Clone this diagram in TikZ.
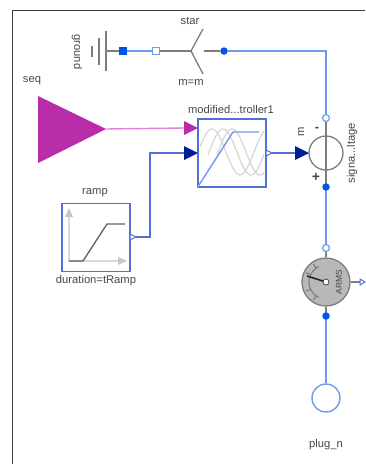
\documentclass[tikz,border=0pt]{standalone}
\usepackage{fontspec}
\setmainfont{Liberation Sans}
\definecolor{wire}{RGB}{110,155,235}
\definecolor{dot}{RGB}{0,85,225}
\definecolor{navy}{RGB}{0,30,150}
\definecolor{boxb}{RGB}{80,112,215}
\definecolor{mag}{RGB}{185,45,170}
\definecolor{pinkw}{RGB}{225,130,215}
\definecolor{grayl}{RGB}{125,125,125}
\definecolor{lab}{RGB}{70,70,70}
\begin{document}
\begin{tikzpicture}[x=1pt,y=-1pt,
  wireline/.style={draw=wire,line width=1.4pt},
  grayline/.style={draw=grayl,line width=1.3pt},
  blockbox/.style={draw=boxb,line width=1.3pt,fill=white,minimum width=68pt,minimum height=68pt,inner sep=0pt},
  lbl/.style={font=\fontsize{11.2}{12}\selectfont,text=lab,inner sep=0pt},
  dotn/.style={circle,fill=dot,minimum size=7.5pt,inner sep=0pt},
  odot/.style={circle,draw=wire,fill=white,line width=1.2pt,minimum size=7pt,inner sep=0pt},
  dsq/.style={rectangle,fill=dot,minimum size=7.5pt,inner sep=0pt},
  osq/.style={rectangle,draw=wire,fill=white,line width=1.2pt,minimum size=6.5pt,inner sep=0pt},
  sinew/.style={black!16,line width=1.2pt}]
\useasboundingbox (0,0) rectangle (365,464);
\draw[draw=black!75,line width=1.2pt] (12.5,464) -- (12.5,10.5) -- (365,10.5);
% coordinates and ports
\coordinate (gnd) at (106,51);
\coordinate (starc) at (191,51);
\coordinate (starr) at (204,51);
\node[dsq] (gp) at (123,51) {};
\node[osq] (sp) at (156,51) {};
\node[dotn] (sn) at (224,51) {};
\coordinate (corner) at (326,51);
\coordinate (hub) at (326,282);
\node[circle,draw=wire,fill=white,line width=1.4pt,minimum size=28pt,inner sep=0pt] (plug) at (326,398) {};
\node[circle,draw=grayl,line width=1.3pt,fill=white,minimum size=34pt,inner sep=0pt] (vs) at (326,153) {};
\node[circle,draw=grayl,line width=1.3pt,fill=black!28,minimum size=48pt,inner sep=0pt] (meter) at (hub) {};
\node[blockbox] (ctl) at (232,153) {};
\node[blockbox] (ramp) at (96,237.5) {};
\coordinate (seqtip) at (106,129);
% wires
\draw[grayline] (gnd) -- (gp);
\draw[wireline] (gp) -- (sp);
\draw[grayline] (sp) -- (starc);
\draw[grayline] (starr) -- (sn);
\coordinate (vpc) at (326,118);
\coordinate (vnc) at (326,187);
\coordinate (mpc) at (326,248);
\coordinate (mnc) at (326,316);
\draw[wireline] (sn) -- (corner) -- (vpc);
\draw[grayline,line width=1.6pt] (vpc) -- (vnc);
\draw[wireline] (vnc) -- (mpc);
\draw[grayline] (mpc) -- (meter);
\draw[grayline] (meter) -- (mnc);
\draw[wireline] (mnc) -- (plug);
\draw[grayline] (meter.east) -- (360,282);
\node[odot] (vp) at (vpc) {};
\node[dotn] (vn) at (vnc) {};
\node[odot] (mp) at (mpc) {};
\node[dotn] (mn) at (mnc) {};
\coordinate (a1) at (184,128);
\coordinate (a2) at (184,153);
\draw[draw=pinkw,line width=1.4pt] (seqtip) -- (a1);
\draw[wireline,draw=boxb] (136,237) -- (150,237) -- (150,153) -- (a2);
\draw[wireline,draw=boxb] (272,153) -- (295,153);
% ground
\draw[grayline,line width=1.5pt] (106,31) -- (106,71) (99,38) -- (99,65) (92,46) -- (92,57);
% star
\draw[grayline] (203,29) -- (starc) -- (203,74);
% seq
\fill[mag] (38,96) -- (seqtip) -- (38,163) -- cycle;
% triangles
\fill[mag] (184,121) -- (198,128) -- (184,135) -- cycle;
\fill[navy] (184,146) -- (198,153) -- (184,160) -- cycle;
\fill[navy] (295,146) -- (309,153) -- (295,160) -- cycle;
\draw[boxb,fill=white,line width=1pt] (266,150) -- (272,153) -- (266,156) -- cycle;
\draw[boxb,fill=white,line width=1pt] (130,234) -- (136,237) -- (130,240) -- cycle;
\draw[boxb,fill=white,line width=1pt] (360,279) -- (365,282) -- (360,285) -- cycle;
% controller icon
\draw[sinew,domain=200:264,samples=50,smooth] plot (\x,{152-23*sin((\x-198)*6.4286)});
\draw[sinew,domain=208:264,samples=50,smooth] plot (\x,{152-23*sin((\x-209)*6.4286)});
\draw[sinew,domain=217:264,samples=50,smooth] plot (\x,{152-23*sin((\x-218)*6.4286)});
\draw[wire,line width=1.4pt] (ctl.south west) -- (233,132) -- (259,132);
% ramp icon
\draw[black!15,line width=1.2pt] (69,214) -- (69,261) -- (120,261);
\fill[black!22] (69,208) -- (73,217) -- (65,217) -- cycle;
\fill[black!22] (127,261) -- (118,257) -- (118,265) -- cycle;
\draw[black!62,line width=1.3pt] (69,261) -- (83,261) -- (107,224) -- (125,224);
% vs signs
\node[font=\bfseries\fontsize{13}{13}\selectfont,text=lab,inner sep=0pt] (minus) at (317,129) {-};
\node[font=\bfseries\fontsize{14}{14}\selectfont,text=lab,inner sep=0pt] (plus) at (316,177) {+};
% meter icon
\draw[black!55,line width=0.9pt] (hub) ++(115:17) arc (115:245:17);
\foreach \a in {125,155,205,235}{\draw[black!55,line width=0.9pt] (hub) ++(\a:17) -- ++(\a:5);}
\draw[black!85,line width=1.6pt] (307,276) -- (hub);
\fill[white] (hub) circle (2.5pt);
\draw[black!70,line width=0.8pt] (hub) circle (3pt);
\node[lbl,rotate=90,font=\fontsize{8.5}{9}\selectfont] (arms) at (339,282) {ARMS};
% labels
\node[lbl] (tstar) at (190,20.5) {star};
\node[lbl] (tmm) at (191,82.5) {m=m};
\node[lbl,rotate=-90] (tgnd) at (77,52) {ground};
\node[lbl] (tseq) at (32,81) {seq};
\node[lbl] (tctl) at (231,109) {modified...troller1};
\node[lbl] (tramp) at (95,193) {ramp};
\node[lbl] (tdur) at (96,281) {duration=tRamp};
\node[lbl,rotate=90] (tm) at (301,132) {m};
\node[lbl,rotate=90] (tsig) at (352,153) {signa...ltage};
\node[lbl] (tplug) at (326,445) {plug\_n};
\end{tikzpicture}
\end{document}
